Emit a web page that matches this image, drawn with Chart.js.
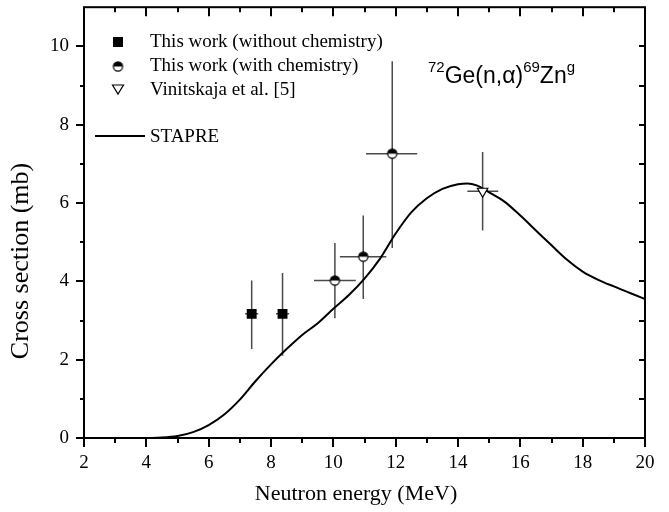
<!DOCTYPE html>
<html>
<head>
<meta charset="utf-8">
<script src="https://cdn.jsdelivr.net/npm/chart.js@4/dist/chart.umd.min.js"></script>
<style>
html, body { margin: 0; padding: 0; background: #fff; }
</style>
</head>
<body>
<canvas id="graph" width="669" height="512"></canvas>
<script>
// courbe STAPRE (energie MeV, section efficace mb)
var stapreE = [4.0, 4.5, 5.0, 5.5, 6.0, 6.5, 7.0, 7.5, 8.0, 8.5, 9.0, 9.5, 10.0, 10.5, 11.0, 11.5, 12.0, 12.5, 13.0, 13.5, 14.0, 14.3, 14.6, 15.0, 15.5, 16.0, 16.5, 17.0, 17.5, 18.0, 18.5, 19.0, 19.5, 20.0];
var stapreXs = [0.0, 0.01, 0.05, 0.15, 0.33, 0.6, 0.98, 1.45, 1.88, 2.27, 2.63, 2.93, 3.3, 3.65, 4.07, 4.58, 5.22, 5.76, 6.12, 6.36, 6.48, 6.5, 6.45, 6.27, 6.03, 5.68, 5.3, 4.92, 4.55, 4.25, 4.04, 3.87, 3.71, 3.55];

// This work (without chemistry)
var noChemE = [7.38, 8.37];
var noChemXs = [3.17, 3.17];
var noChemELow = [7.17, 8.16];
var noChemEHigh = [7.59, 8.58];
var noChemXsLow = [2.27, 2.10];
var noChemXsHigh = [4.02, 4.21];

// This work (with chemistry)
var chemE = [10.05, 10.96, 11.89];
var chemXs = [4.02, 4.63, 7.26];
var chemELow = [9.38, 10.21, 11.05];
var chemEHigh = [10.72, 11.70, 12.69];
var chemXsLow = [3.06, 3.55, 4.85];
var chemXsHigh = [4.98, 5.68, 9.62];

// Vinitskaja et al. [5]
var vinE = [14.79];
var vinXs = [6.30];
var vinELow = [14.30];
var vinEHigh = [15.29];
var vinXsLow = [5.30];
var vinXsHigh = [7.30];

var serif = '"Liberation Serif", "Times New Roman", serif';
var sans = '"Liberation Sans", Arial, sans-serif';

var toPoints = function(xs, ys, xl, xh, yl, yh) {
    return xs.map(function(x, i) {
        var p = { x: x, y: ys[i] };
        if (xl) { p.xMin = xl[i]; p.xMax = xh[i]; p.yMin = yl[i]; p.yMax = yh[i]; }
        return p;
    });
};

// marqueur cercle demi-plein
var halfCircle = function(r) {
    var c = document.createElement('canvas');
    var s = Math.ceil(r * 2 + 3);
    c.width = s; c.height = s;
    var g = c.getContext('2d');
    var m = s / 2;
    g.beginPath(); g.arc(m, m, r, 0, 2 * Math.PI); g.fillStyle = '#fff'; g.fill();
    g.beginPath(); g.arc(m, m, r, Math.PI, 2 * Math.PI); g.closePath(); g.fillStyle = '#000'; g.fill();
    g.beginPath(); g.arc(m, m, r, 0, 2 * Math.PI); g.lineWidth = 1.2; g.strokeStyle = '#000'; g.stroke();
    return c;
};
var halfImg = halfCircle(4.6);

// barres d'erreur
var errorBars = {
    id: 'errorBars',
    beforeDatasetsDraw: function(chart) {
        var ctx = chart.ctx, xs = chart.scales.x, ys = chart.scales.y;
        ctx.save();
        ctx.strokeStyle = '#4a4a4a';
        ctx.lineWidth = 1.5;
        chart.data.datasets.forEach(function(ds) {
            if (!ds.errorBars) return;
            ds.data.forEach(function(p) {
                var px = xs.getPixelForValue(p.x), py = ys.getPixelForValue(p.y);
                ctx.beginPath();
                ctx.moveTo(px, ys.getPixelForValue(p.yMin));
                ctx.lineTo(px, ys.getPixelForValue(p.yMax));
                ctx.moveTo(xs.getPixelForValue(p.xMin), py);
                ctx.lineTo(xs.getPixelForValue(p.xMax), py);
                ctx.stroke();
            });
        });
        ctx.restore();
    }
};

// cadre, graduations, titres, legende et annotation
var frame = {
    id: 'frame',
    afterDraw: function(chart) {
        var ctx = chart.ctx, a = chart.chartArea, xs = chart.scales.x, ys = chart.scales.y;
        ctx.save();
        ctx.strokeStyle = '#000';
        ctx.lineWidth = 2;
        ctx.strokeRect(a.left, a.top, a.right - a.left, a.bottom - a.top);
        ctx.beginPath();
        for (var v = 2; v <= 20; v++) {
            var px = Math.round(xs.getPixelForValue(v));
            var len = (v % 2 === 0) ? 9 : 5;
            ctx.moveTo(px, a.bottom); ctx.lineTo(px, a.bottom + len);
            ctx.moveTo(px, a.top); ctx.lineTo(px, a.top + len);
        }
        for (var w = 0; w <= 10; w++) {
            var py = Math.round(ys.getPixelForValue(w));
            var l = (w % 2 === 0) ? 8 : 4;
            ctx.moveTo(a.left - l, py); ctx.lineTo(a.left, py);
            ctx.moveTo(a.right - 6, py); ctx.lineTo(a.right, py);
        }
        ctx.stroke();

        // titres des axes
        ctx.fillStyle = '#000';
        ctx.textAlign = 'center';
        ctx.textBaseline = 'alphabetic';
        ctx.font = '22px ' + serif;
        ctx.fillText('Neutron energy (MeV)', 356, 500);
        ctx.save();
        ctx.translate(28, 261);
        ctx.rotate(-Math.PI / 2);
        ctx.font = '26px ' + serif;
        ctx.fillText('Cross section (mb)', 0, 0);
        ctx.restore();

        // legende
        ctx.fillRect(113, 37, 10, 10);
        ctx.drawImage(halfImg, 118 - halfImg.width / 2, 66.5 - halfImg.height / 2);
        ctx.beginPath();
        ctx.moveTo(112.5, 85); ctx.lineTo(123.5, 85); ctx.lineTo(118, 94); ctx.closePath();
        ctx.fillStyle = '#fff'; ctx.fill();
        ctx.lineWidth = 1.2; ctx.stroke();
        ctx.beginPath();
        ctx.lineWidth = 2;
        ctx.moveTo(95, 136); ctx.lineTo(145, 136);
        ctx.stroke();
        ctx.fillStyle = '#000';
        ctx.font = '19px ' + serif;
        ctx.textAlign = 'left';
        ctx.fillText('This work (without chemistry)', 150, 47);
        ctx.fillText('This work (with chemistry)', 150, 71);
        ctx.fillText('Vinitskaja et al. [5]', 150, 94.5);
        ctx.fillText('STAPRE', 150, 142);

        // 72Ge(n,a)69Zng
        var parts = [['72', true], ['Ge(n,\u03b1)', false], ['69', true], ['Zn', false], ['g', true]];
        var x = 428;
        parts.forEach(function(p) {
            ctx.font = (p[1] ? '15px ' : '23px ') + sans;
            ctx.fillText(p[0], x, p[1] ? 72 : 83);
            x += ctx.measureText(p[0]).width;
        });
        ctx.restore();
    }
};

var config = {
    type: 'scatter',
    data: {
        datasets: [{
            label: 'This work (without chemistry)',
            data: toPoints(noChemE, noChemXs, noChemELow, noChemEHigh, noChemXsLow, noChemXsHigh),
            errorBars: true,
            pointStyle: 'rect',
            pointRadius: 7,
            backgroundColor: '#000',
            borderColor: '#000',
            borderWidth: 0
        }, {
            label: 'This work (with chemistry)',
            data: toPoints(chemE, chemXs, chemELow, chemEHigh, chemXsLow, chemXsHigh),
            errorBars: true,
            pointStyle: halfImg,
            pointRadius: 5
        }, {
            label: 'Vinitskaja et al. [5]',
            data: toPoints(vinE, vinXs, vinELow, vinEHigh, vinXsLow, vinXsHigh),
            errorBars: true,
            pointStyle: 'triangle',
            rotation: 180,
            pointRadius: 6,
            backgroundColor: '#fff',
            borderColor: '#000',
            borderWidth: 1.2
        }, {
            label: 'STAPRE',
            data: toPoints(stapreE, stapreXs),
            showLine: true,
            cubicInterpolationMode: 'monotone',
            borderColor: '#000',
            borderWidth: 2,
            pointRadius: 0
        }]
    },
    options: {
        responsive: false,
        animation: false,
        layout: { padding: { left: 0, right: 24, top: 7, bottom: 0 } },
        plugins: { legend: { display: false }, tooltip: { enabled: false } },
        scales: {
            x: {
                type: 'linear', min: 2, max: 20,
                grid: { display: false }, border: { display: false },
                ticks: { stepSize: 2, maxRotation: 0, padding: 6, color: '#000', font: { family: serif, size: 19 } },
                afterFit: function(s) { s.height = 74; s.paddingLeft = 0; s.paddingRight = 0; }
            },
            y: {
                type: 'linear', min: 0, max: 11,
                grid: { display: false }, border: { display: false },
                ticks: { stepSize: 2, includeBounds: false, padding: 7, color: '#000', font: { family: serif, size: 19 } },
                afterFit: function(s) { s.width = 84; s.paddingTop = 0; s.paddingBottom = 0; }
            }
        }
    },
    plugins: [errorBars, frame]
};

window.onload = function() {
    var ctx = document.getElementById('graph').getContext('2d');
    window.myChart = new Chart(ctx, config);
};
</script>
</body>
</html>
